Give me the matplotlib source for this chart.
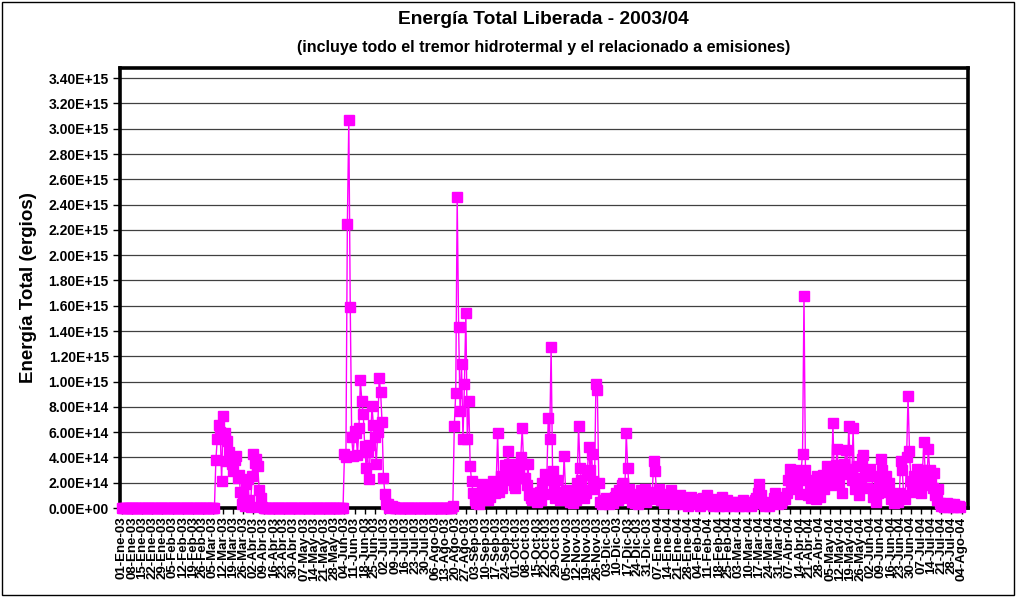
import numpy as np
import pandas as pd
import matplotlib
matplotlib.use("Agg")
import matplotlib.pyplot as plt
from matplotlib.patches import Rectangle

# energia diaria en unidades de 1E+14 ergios; los dias que no aparecen valen 0
mar_2003 = [0, 0, 0, 0, 0, 0, 3.8, 5.5, 6.6, 6.0, 2.1, 7.3, 5.9, 3.7, 5.3, 4.4,
            4.0, 3.5, 2.9, 3.8, 4.1, 2.4, 2.6, 1.3, 0.3, 1.1, 0.2, 1.9, 2.3, 0.6, 0.1]
abr_2003 = [2.5, 4.3, 3.6, 3.9, 3.3, 1.4, 0.8, 0.1]
jun_2003 = [0, 0, 0, 4.3, 4.0, 22.5, 30.7, 15.9, 5.6, 4.1, 6.1, 5.9, 4.2, 6.3, 10.1,
            8.5, 7.4, 4.9, 3.2, 4.4, 2.3, 5.0, 8.1, 6.6, 5.6, 3.5, 6.0, 10.3, 9.2, 6.8]
jul_2003 = [2.4, 1.1, 0.3, 0.3, 0, 0.1, 0.2, 0.1]
ago_2003 = [0, 0, 0, 0, 0, 0, 0, 0, 0, 0, 0, 0, 0, 0, 0, 0, 0, 0.2, 6.5, 9.1, 24.6,
            14.3, 7.7, 11.4, 5.5, 9.8, 15.4, 5.5, 8.5, 3.3, 2.1]
sep_2003 = [1.2, 0.6, 0.4, 1.0, 0.3, 1.0, 1.9, 0.8, 1.6, 1.2, 0.6, 1.8, 0.9, 1.4, 2.1,
            1.2, 2.0, 5.9, 1.3, 2.5, 1.6, 2.3, 3.4, 2.6, 4.5, 3.5, 2.2, 2.9, 1.8, 1.6]
oct_2003 = [2.4, 3.5, 2.8, 4.0, 6.3, 3.5, 2.4, 1.8, 3.5, 1.0, 0.8, 0.6, 1.2, 0.9, 0.5,
            0.8, 1.3, 0.6, 2.0, 1.1, 2.7, 2.2, 7.1, 5.5, 12.7, 2.9, 1.5, 0.8, 2.2, 1.0, 0.6]
nov_2003 = [1.3, 1.0, 4.1, 1.4, 0.7, 1.0, 0.5, 0.9, 0.4, 1.1, 0.6, 2.0, 6.5, 3.2, 2.2,
            1.4, 0.8, 1.2, 2.6, 4.8, 3.0, 4.3, 2.1, 1.5, 9.8, 9.3, 2.0, 0.5, 0.3, 0.6]
dic_2003 = [0.4, 0.8, 0.5, 0.3, 0.7, 0.5, 0.4, 0.9, 1.2, 0.6, 1.4, 0.8, 1.8, 2.0, 1.2,
            5.9, 3.2, 1.5, 0.8, 0.5, 1.1, 0.4, 0.7, 0.3, 0.9, 1.4, 0.6, 0.8, 1.5, 0.5, 1.0]
ene_2004 = [1.3, 0.7, 1.2, 3.7, 2.9, 1.2, 0.8, 1.5, 0.6, 1.0, 0.4, 0.8, 0.5, 1.1, 0.6,
            1.4, 0.9, 0.5, 0.3, 0.7, 0.4, 1.0, 0.6, 0.3, 0.5, 0.8, 0.4, 0.2, 0.6, 0.9, 0.5]
feb_2004 = [0.4, 0.3, 0.7, 0.5, 0.2, 0.4, 0.8, 0.3, 0.5, 1.0, 0.6, 0.3, 0.4, 0.2, 0.5,
            0.7, 0.3, 0.2, 0.4, 0.9, 0.5, 0.3, 0.2, 0.6, 0.4, 0.3, 0.5, 0.2, 0.4]
mar_2004 = [0.3, 0.5, 0.2, 0.4, 0.3, 0.6, 0.2, 0.4, 0.3, 0.5, 0.2, 0.3, 0.4, 0.6, 0.8,
            1.2, 1.9, 1.0, 0.5, 0.3, 0.2, 0.4, 0.3, 0.2, 0.4, 0.5, 0.8, 1.2, 0.4, 0.3, 0.5]
abr_2004 = [0.4, 0.6, 0.9, 0.7, 1.2, 2.2, 3.1, 2.0, 1.5, 2.6, 3.0, 1.8, 2.4, 1.1, 2.9,
            4.3, 16.8, 3.0, 2.2, 1.0, 1.6, 0.8, 2.0, 1.2, 0.7, 2.5, 1.4, 0.9, 1.8, 2.6]
may_2004 = [1.5, 2.4, 3.3, 2.6, 3.1, 1.8, 6.7, 2.2, 3.4, 4.7, 2.0, 3.0, 1.2, 2.7, 3.5,
            4.6, 2.9, 6.5, 3.1, 2.2, 6.3, 1.5, 2.4, 3.3, 1.0, 2.2, 3.9, 4.2, 2.5, 1.6, 3.0]
jun_2004 = [2.8, 3.1, 2.5, 0.9, 1.5, 0.5, 1.2, 1.9, 3.9, 3.0, 2.2, 1.5, 2.5, 1.3, 2.0,
            0.7, 1.1, 0.4, 0.6, 0.8, 0.5, 1.2, 3.7, 3.0, 1.0, 0.7, 4.0, 8.9, 4.5, 2.1]
jul_2004 = [1.8, 2.5, 1.3, 3.1, 2.0, 1.5, 1.2, 3.0, 5.2, 2.4, 1.8, 4.7, 3.0, 2.2, 1.6,
            2.8, 1.0, 0.6, 1.5, 0.4, 0.2, 0.3, 0.1, 0.2, 0.4, 0.1, 0.3, 0.2, 0.1, 0.3, 0.2]
ago_2004 = [0.1, 0.2, 0.1]

meses = ["Ene", "Feb", "Mar", "Abr", "May", "Jun", "Jul", "Ago", "Sep", "Oct", "Nov", "Dic"]

tramos = [("2003-03-01", mar_2003), ("2003-04-01", abr_2003), ("2003-06-01", jun_2003),
          ("2003-07-01", jul_2003), ("2003-08-01", ago_2003), ("2003-09-01", sep_2003),
          ("2003-10-01", oct_2003), ("2003-11-01", nov_2003), ("2003-12-01", dic_2003),
          ("2004-01-01", ene_2004), ("2004-02-01", feb_2004), ("2004-03-01", mar_2004),
          ("2004-04-01", abr_2004), ("2004-05-01", may_2004), ("2004-06-01", jun_2004),
          ("2004-07-01", jul_2004), ("2004-08-01", ago_2004)]

dias = pd.date_range("2003-01-01", "2004-08-03", freq="D")
energia = pd.Series(0.0, index=dias)
for inicio, vals in tramos:
    idx = pd.date_range(inicio, periods=len(vals), freq="D")
    energia[idx] = vals
energia = energia * 1e14

plt.rcParams['font.family'] = ['Liberation Sans', 'DejaVu Sans']
plt.rcParams['font.weight'] = 'bold'

fig = plt.figure(figsize=(10.16, 5.97), dpi=100)
ax = fig.add_axes([0.118, 0.149, 0.835, 0.737])

ax.plot(energia.index, energia.values, color="#FF00FF", lw=1.0, marker="s",
        markersize=6.5, markerfacecolor="#FF00FF", markeredgecolor="#FF00FF",
        clip_on=False, zorder=3)

ax.set_ylim(0, 3.48e15)
ax.set_yticks(np.arange(0, 3.41e15, 2e14))
ax.yaxis.set_major_formatter(lambda v, p: "{:.2E}".format(v))
ax.grid(axis="y", color="#404040", lw=0.9)
ax.set_axisbelow(True)

semanas = pd.date_range("2003-01-01", "2004-08-04", freq="7D")
ax.set_xticks(semanas)
ax.set_xticklabels(["{:02d}-{}-{:02d}".format(d.day, meses[d.month - 1], d.year % 100)
                    for d in semanas], rotation=90, fontsize=9.5, fontweight="bold")
ax.set_xlim(pd.Timestamp("2002-12-30 14:00"), pd.Timestamp("2004-08-08 16:00"))

ax.tick_params(axis="y", labelsize=10, length=5, width=1, direction="out", pad=3)
ax.tick_params(axis="x", length=4, width=1, direction="out", pad=2)
for lbl in ax.get_yticklabels():
    lbl.set_fontweight("bold")
for s in ax.spines.values():
    s.set_linewidth(2.6)
    s.set_color("black")

ax.set_ylabel("Energía Total (ergios)", fontsize=13.5, fontweight="bold", labelpad=8)

fig.text(0.535, 0.968, "Energía Total Liberada - 2003/04", ha="center", va="center",
         fontsize=13.8, fontweight="bold")
fig.text(0.535, 0.921, "(incluye todo el tremor hidrotermal y el relacionado a emisiones)",
         ha="center", va="center", fontsize=11.5, fontweight="bold")

fig.patches.append(Rectangle((0.002, 0.003), 0.996, 0.994, transform=fig.transFigure,
                             fill=False, edgecolor="black", lw=1.0))

fig.savefig("out.png", dpi=100)
